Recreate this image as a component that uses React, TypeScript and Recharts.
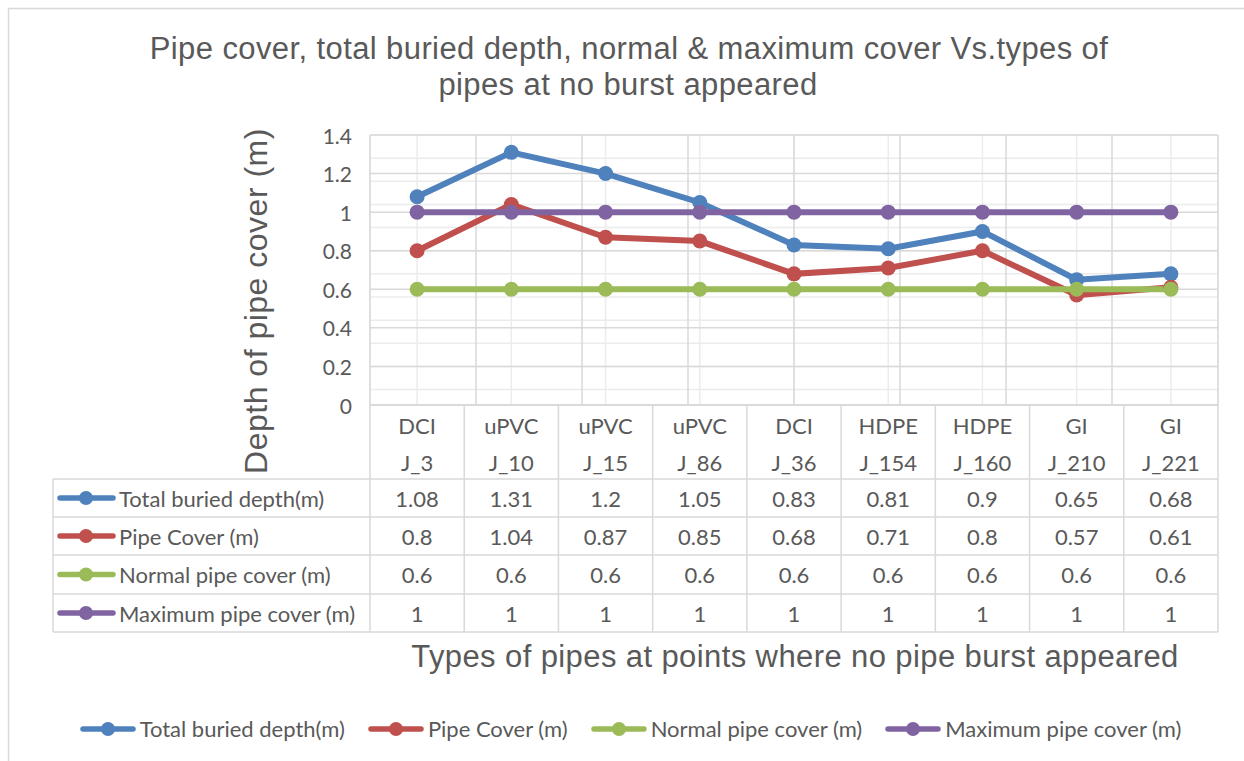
import React from "react";
import { LineChart, Line, XAxis, YAxis, CartesianGrid, Customized } from "recharts";

const types = ["DCI", "uPVC", "uPVC", "uPVC", "DCI", "HDPE", "HDPE", "GI", "GI"];
const junctions = ["J_3", "J_10", "J_15", "J_86", "J_36", "J_154", "J_160", "J_210", "J_221"];
const totalBuried = [1.08, 1.31, 1.2, 1.05, 0.83, 0.81, 0.9, 0.65, 0.68];
const pipeCover = [0.8, 1.04, 0.87, 0.85, 0.68, 0.71, 0.8, 0.57, 0.61];
const normalCover = [0.6, 0.6, 0.6, 0.6, 0.6, 0.6, 0.6, 0.6, 0.6];
const maxCover = [1, 1, 1, 1, 1, 1, 1, 1, 1];
const yTicks = [0, 0.2, 0.4, 0.6, 0.8, 1, 1.2, 1.4];

const series = [
  { key: "total", name: "Total buried depth(m)", color: "#4F81BD", values: totalBuried },
  { key: "cover", name: "Pipe Cover (m)", color: "#C0504D", values: pipeCover },
  { key: "normal", name: "Normal pipe cover (m)", color: "#9BBB59", values: normalCover },
  { key: "max", name: "Maximum pipe cover (m)", color: "#8064A2", values: maxCover },
];

const data = junctions.map((j, i) => {
  const row: Record<string, string | number> = { j, type: types[i] };
  series.forEach((s) => (row[s.key] = s.values[i]));
  return row;
});

// layout
const W = 1244;
const H = 761;
const PL = 370;
const PR = 1218;
const PT = 135;
const PB = 405;
const TABLE_B = 632;
const BW = (PR - PL) / junctions.length;
const ROWS = [479, 517, 555, 594, 632];
const TABLE_L = 53;
const TXT = "#595959";
const GRID = "#d9d9d9";
const MINOR = "#ececec";
const FONT = "Lato, 'Open Sans', sans-serif";
const TFONT = "'Liberation Sans', Arial, sans-serif";
const FS = 22;

const minorTicks = Array.from({ length: 71 }, (_, i) => Math.round(i * 2) / 100);
const boundTicks = Array.from({ length: 10 }, (_, i) => i);

function TableTick(props: any) {
  const { x, payload } = props;
  const i = payload.index;
  const left = x - BW / 2;
  return (
    <g>
      <line x1={left} y1={PB} x2={left} y2={TABLE_B} stroke={GRID} strokeWidth={1.5} />
      {i === junctions.length - 1 && (
        <line x1={left + BW} y1={PB} x2={left + BW} y2={TABLE_B} stroke={GRID} strokeWidth={1.5} />
      )}
      <text x={x} y={425} textAnchor="middle" dominantBaseline="central" fontSize={FS} fill={TXT} fontFamily={FONT}>
        {types[i]}
      </text>
      <text x={x} y={462} textAnchor="middle" dominantBaseline="central" fontSize={FS} fill={TXT} fontFamily={FONT}>
        {payload.value}
      </text>
      {series.map((s, r) => (
        <text
          key={s.key}
          x={x}
          y={(ROWS[r] + ROWS[r + 1]) / 2}
          textAnchor="middle"
          dominantBaseline="central"
          fontSize={FS}
          fill={TXT}
          fontFamily={FONT}
        >
          {String(s.values[i])}
        </text>
      ))}
    </g>
  );
}

function YTick(props: any) {
  const { y, payload } = props;
  return (
    <text x={352} y={y} textAnchor="end" dominantBaseline="central" fontSize={21} fill={TXT} fontFamily={FONT}>
      {String(payload.value)}
    </text>
  );
}

function Frame() {
  return (
    <g>
      <rect x={8.5} y={8.5} width={1300} height={800} fill="none" stroke={GRID} strokeWidth={1.5} />
      <text x={629} y={48} textAnchor="middle" dominantBaseline="central" fontSize={31} letterSpacing={0.4} fill={TXT} fontFamily={TFONT}>
        Pipe cover, total buried depth, normal &amp; maximum cover Vs.types of
      </text>
      <text x={628} y={84} textAnchor="middle" dominantBaseline="central" fontSize={31} letterSpacing={0.4} fill={TXT} fontFamily={TFONT}>
        pipes at no burst appeared
      </text>
      <text
        x={256}
        y={301}
        transform="rotate(-90 256 301)"
        textAnchor="middle"
        dominantBaseline="central"
        fontSize={32}
        letterSpacing={0.5}
        fill={TXT}
        fontFamily={TFONT}
      >
        Depth of pipe cover (m)
      </text>
      <text x={795} y={656} textAnchor="middle" dominantBaseline="central" fontSize={31} letterSpacing={0.4} fill={TXT} fontFamily={TFONT}>
        Types of pipes at points where no pipe burst appeared
      </text>
      {ROWS.map((y) => (
        <line key={y} x1={TABLE_L} y1={y} x2={PR} y2={y} stroke={GRID} strokeWidth={1.5} />
      ))}
      <line x1={PL} y1={PB} x2={PR} y2={PB} stroke={GRID} strokeWidth={1.5} />
      <line x1={TABLE_L} y1={ROWS[0]} x2={TABLE_L} y2={TABLE_B} stroke={GRID} strokeWidth={1.5} />
      {series.map((s, r) => {
        const cy = (ROWS[r] + ROWS[r + 1]) / 2;
        return (
          <g key={s.key}>
            <line x1={60} y1={cy} x2={113} y2={cy} stroke={s.color} strokeWidth={5.5} strokeLinecap="round" />
            <circle cx={86} cy={cy} r={7} fill={s.color} />
            <text x={119} y={cy} dominantBaseline="central" fontSize={FS} fill={TXT} fontFamily={FONT}>
              {s.name}
            </text>
          </g>
        );
      })}
    </g>
  );
}

function LegendRow() {
  return (
    <div
      style={{
        position: "absolute",
        left: 0,
        top: 715,
        width: W,
        display: "flex",
        justifyContent: "center",
        gap: 23,
        paddingLeft: 17,
        boxSizing: "border-box",
        fontFamily: FONT,
        fontSize: FS,
        color: TXT,
        lineHeight: "28px",
      }}
    >
      {series.map((s) => (
        <div key={s.key} style={{ display: "flex", alignItems: "center", gap: 4 }}>
          <svg width={56} height={28}>
            <line x1={3} y1={14} x2={53} y2={14} stroke={s.color} strokeWidth={5.5} strokeLinecap="round" />
            <circle cx={28} cy={14} r={7} fill={s.color} />
          </svg>
          <span>{s.name}</span>
        </div>
      ))}
    </div>
  );
}

export default function App() {
  return (
    <div style={{ position: "absolute", left: 0, top: 0, width: W, height: H, background: "#fff" }}>
      <LineChart
        width={W}
        height={H}
        data={data}
        margin={{ top: PT, left: PL - 60, right: W - PR, bottom: H - PB - (TABLE_B - PB) }}
      >
        <XAxis
          xAxisId="cat"
          dataKey="j"
          height={TABLE_B - PB}
          padding={{ left: BW / 2, right: BW / 2 }}
          axisLine={false}
          tickLine={false}
          interval={0}
          tick={<TableTick />}
        />
        <XAxis xAxisId="bound" type="number" domain={[0, 9]} ticks={boundTicks} allowDataOverflow hide />
        <YAxis yAxisId="major" width={60} domain={[0, 1.4]} ticks={yTicks} axisLine={false} tickLine={false} tick={<YTick />} />
        <YAxis yAxisId="minor" domain={[0, 1.4]} ticks={minorTicks} allowDataOverflow hide />
        <CartesianGrid xAxisId="cat" yAxisId="minor" stroke={MINOR} strokeWidth={1.5} />
        <CartesianGrid xAxisId="bound" yAxisId="major" stroke={GRID} strokeWidth={1.5} />
        <Customized component={<Frame />} />
        {series.map((s) => (
          <Line
            key={s.key}
            xAxisId="cat"
            yAxisId="major"
            dataKey={s.key}
            name={s.name}
            stroke={s.color}
            strokeWidth={6}
            dot={{ r: 7.5, fill: s.color, stroke: s.color, strokeWidth: 0 }}
            activeDot={false}
            isAnimationActive={false}
          />
        ))}
      </LineChart>
      <LegendRow />
    </div>
  );
}
